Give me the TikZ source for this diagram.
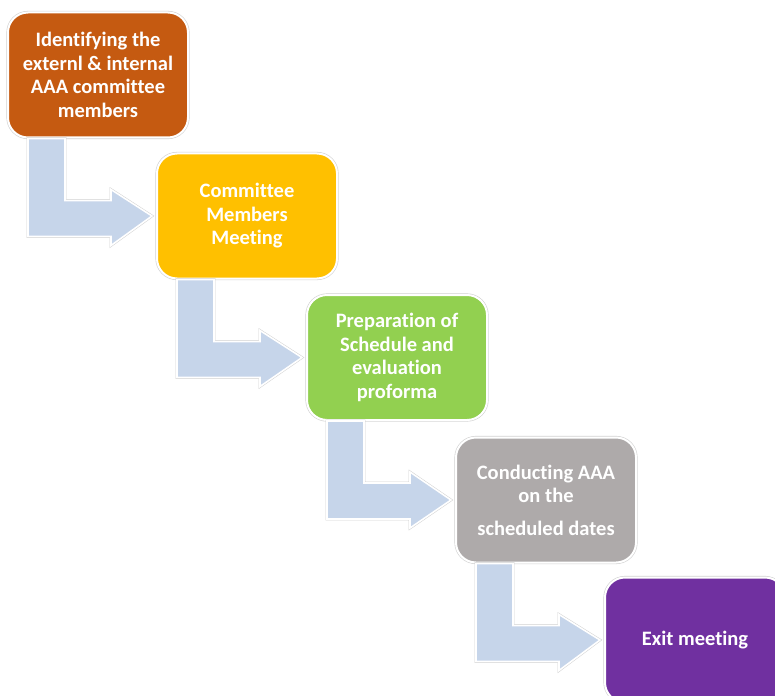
\documentclass[tikz,border=0pt]{standalone}
\usepackage{fontspec}
\setmainfont{Carlito}[Ligatures=NoCommon]
\usetikzlibrary{calc}
\definecolor{cOrange}{HTML}{C55A11}
\definecolor{cYellow}{HTML}{FFC000}
\definecolor{cGreen}{HTML}{92D050}
\definecolor{cGray}{HTML}{AEAAAA}
\definecolor{cPurple}{HTML}{7030A0}
\definecolor{cArrow}{HTML}{C6D5EA}
\tikzset{
  stepbox/.style={rectangle, rounded corners=20pt, minimum width=180pt, minimum height=125pt,
    inner sep=0pt, align=center, text=white, font=\fontsize{20.5}{23.5}\selectfont\bfseries,
    preaction={draw=black!18, line width=3.2pt}, draw=white, line width=2pt},
  arr/.style={fill=cArrow, preaction={draw=black!18, line width=2.6pt}, draw=white, line width=1.6pt, line join=miter},
}
\newcommand\bentarrow[2]{%
  \path[arr] ($(#1.south west)+(21,0)$) -- ($(#1.south west)+(21,98)$) -- ($(#1.south west)+(104,98)$)
    -- ($(#1.south west)+(104,107)$) -- ($(#2.west)+(-4,0)$) -- ($(#1.south west)+(104,51)$)
    -- ($(#1.south west)+(104,62)$) -- ($(#1.south west)+(58,62)$) -- ($(#1.south west)+(58,0)$) -- cycle;}
\begin{document}
\begin{tikzpicture}[x=1pt,y=-1pt]
\useasboundingbox (0,0) rectangle (775,695);
\clip (0,0) rectangle (775,695);
\node[stepbox, fill=cOrange] (b1) at (98,75) {Identifying the\\externl \& internal\\AAA committee\\members};
\node[stepbox, fill=cYellow] (b2) at (247,216) {Committee\\Members\\Meeting};
\node[stepbox, fill=cGreen] (b3) at (397,357.5) {Preparation of\\Schedule and\\evaluation\\proforma};
\node[stepbox, fill=cGray] (b4) at (546,500) {Conducting AAA\\on the\\[9pt]scheduled dates};
\node[stepbox, fill=cPurple] (b5) at (695,640) {Exit meeting};
\bentarrow{b1}{b2}
\bentarrow{b2}{b3}
\bentarrow{b3}{b4}
\bentarrow{b4}{b5}
\end{tikzpicture}
\end{document}
